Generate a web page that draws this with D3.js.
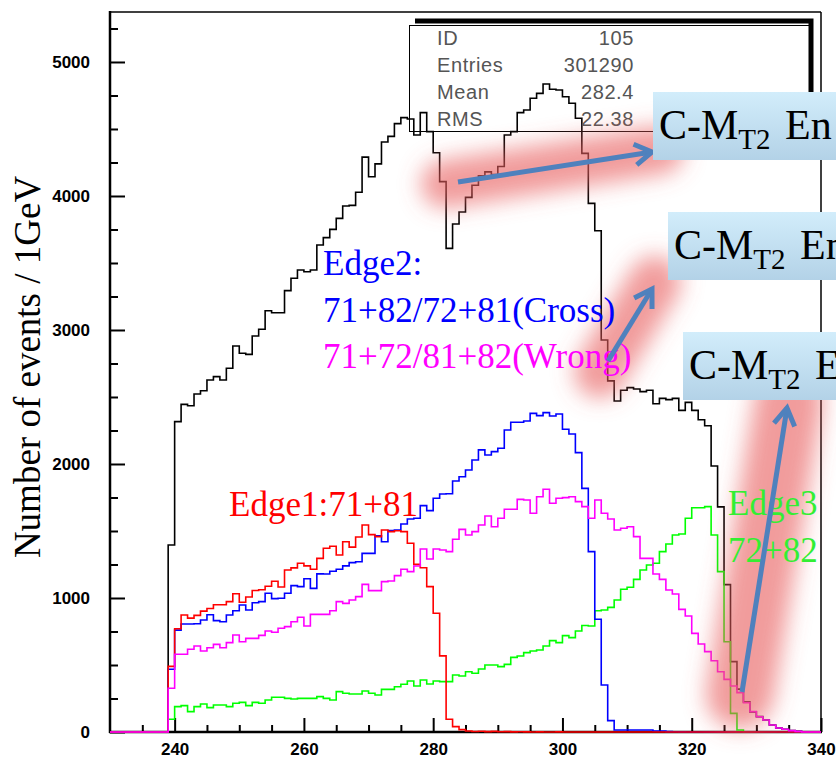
<!DOCTYPE html>
<html>
<head>
<meta charset="utf-8">
<script src="https://d3js.org/d3.v7.min.js"></script>
<style>
body { margin: 0; background: #fff; overflow: hidden; }
svg { display: block; }
.tick text { font-family: "Liberation Sans", Arial, sans-serif; font-weight: bold; font-size: 17px; fill: #000; }
</style>
</head>
<body>
<div id="chart"></div>
<script>
// 1 GeV bins, first bin starts at 230 GeV
var firstBin = 230;

// black: all combinations
var total = [
  0,0,0,0,0,0,0,0,0,1396,
  2316,2445,2435,2522,2547,2627,2652,2627,2714,2881,
  2826,2818,2955,3005,3144,3129,3129,3294,3386,3448,
  3435,3448,3634,3689,3751,3833,3925,3930,4028,4290,
  4144,4240,4403,4445,4540,4585,4575,4455,4622,4480,
  4323,4107,3609,3791,3880,3990,4080,4150,4180,4160,
  4220,4455,4480,4622,4642,4729,4766,4836,4796,4791,
  4741,4692,4580,4318,3945,3741,2925,2620,2470,2550,
  2570,2560,2540,2550,2450,2490,2480,2490,2400,2460,
  2400,2330,2285,1985,1680,1100,525,320,225,150,
  115,90,52,30,20,10,5,0,0,0];
// red: Edge1 71+81
var edge1 = [
  0,0,0,0,0,0,0,0,0,490,
  770,873,850,870,902,922,950,950,973,1032,
  968,1008,1056,1062,1088,1125,1082,1209,1225,1259,
  1240,1214,1296,1371,1386,1321,1420,1380,1455,1545,
  1473,1458,1507,1495,1502,1495,1408,1251,1226,1085,
  886,568,95,40,18,8,4,6,3,5,
  2,3,1,2,1,0,1,0,0,1,
  0,0,0,0,0,0,0,0,0,0,
  0,0,0,0,0,0,0,0,0,0,
  0,0,0,0,0,0,0,0,0,0,
  0,0,0,0,0,0,0,0,0,0];
// blue: Edge2 cross
var cross = [
  0,0,0,0,0,0,0,0,0,468,
  760,806,806,808,836,875,831,823,873,905,
  948,910,965,973,1035,995,998,1035,1092,1085,
  1144,1072,1180,1179,1200,1215,1240,1264,1271,1333,
  1333,1465,1420,1503,1507,1552,1590,1595,1689,1652,
  1744,1776,1778,1873,1905,1955,2030,2105,2067,2092,
  2117,2254,2311,2311,2321,2378,2361,2383,2358,2373,
  2259,2224,2085,1818,1346,841,351,85,15,15,
  15,15,15,15,7,7,3,2,1,0,
  0,0,0,0,0,0,0,0,0,0,
  0,0,0,0,0,0,0,0,0,0];
// magenta: Edge2 wrong
var wrong = [
  0,0,0,0,0,0,0,0,0,326,
  580,580,617,642,605,629,654,629,667,724,
  674,699,699,721,754,744,774,786,823,856,
  791,878,878,878,905,973,960,985,1010,1102,
  1055,1055,1122,1127,1167,1214,1197,1239,1366,1291,
  1366,1358,1346,1438,1512,1470,1495,1545,1612,1532,
  1595,1662,1662,1736,1731,1632,1756,1811,1707,1744,
  1749,1756,1719,1682,1595,1731,1632,1590,1507,1520,
  1532,1458,1296,1296,1179,1139,1060,1030,915,866,
  736,657,600,532,450,393,343,294,219,152,
  114,90,52,30,20,10,5,0,0,0];
// green: Edge3 72+82
var edge3 = [
  0,0,0,0,0,0,0,0,0,95,
  189,197,152,189,209,182,201,201,189,214,
  221,197,221,214,239,259,259,251,246,251,
  251,251,264,251,239,301,289,284,284,306,
  289,276,318,318,338,356,381,343,388,358,
  381,376,376,425,418,450,438,470,500,500,
  488,505,557,567,592,604,612,642,682,667,
  719,704,754,795,791,905,910,930,985,1065,
  1080,1139,1209,1246,1259,1346,1403,1470,1478,1595,
  1674,1674,1682,1470,1197,674,139,15,0,0,
  0,0,0,0,0,0,0,0,0,0];

var statsNames = ["ID", "Entries", "Mean", "RMS"];
var statsValues = ["105", "301290", "282.4", "22.38"];
var boxTails = ["En", "En", "E"];
var xMajor = [240, 260, 280, 300, 320, 340];
var yMajor = [0, 1000, 2000, 3000, 4000, 5000];

var W = 836, H = 759;
var svg = d3.select("#chart").append("svg")
  .attr("width", W).attr("height", H);

var x = d3.scaleLinear().domain([230, 340]).range([110, 821]);
var y = d3.scaleLinear().domain([0, 5373]).range([732, 12]);

// blur for the glow highlights
var defs = svg.append("defs");
defs.append("filter").attr("id", "glow")
  .attr("filterUnits", "userSpaceOnUse")
  .attr("x", 0).attr("y", 0).attr("width", W).attr("height", H)
  .append("feGaussianBlur").attr("stdDeviation", 11);
var grad = defs.append("linearGradient").attr("id", "boxfill")
  .attr("x1", 0).attr("y1", 0).attr("x2", 0).attr("y2", 1);
grad.append("stop").attr("offset", "0%").attr("stop-color", "#d2edfb");
grad.append("stop").attr("offset", "100%").attr("stop-color", "#b3d2e7");

// minor + major ticks
var xMinor = d3.range(235, 340, 5).filter(function(v){ return xMajor.indexOf(v) < 0; });
svg.append("g").attr("transform", "translate(0,732)")
  .call(d3.axisBottom(x).tickValues(xMinor).tickSize(-7).tickFormat(""))
  .call(function(g){ g.select(".domain").remove(); g.selectAll("line").attr("stroke-width", 2); });
svg.append("g").attr("transform", "translate(0,732)")
  .call(d3.axisBottom(x).tickValues(xMajor).tickSize(-14).tickPadding(11).tickFormat(d3.format("d")))
  .call(function(g){ g.select(".domain").remove(); g.selectAll("line").attr("stroke-width", 2); });

var yMinor = d3.range(250, 5373, 250).filter(function(v){ return yMajor.indexOf(v) < 0; });
svg.append("g").attr("transform", "translate(110,0)")
  .call(d3.axisLeft(y).tickValues(yMinor).tickSize(-8).tickFormat(""))
  .call(function(g){ g.select(".domain").remove(); g.selectAll("line").attr("stroke-width", 2); });
svg.append("g").attr("transform", "translate(110,0)")
  .call(d3.axisLeft(y).tickValues(yMajor).tickSize(-15).tickPadding(20).tickFormat(d3.format("d")))
  .call(function(g){ g.select(".domain").remove(); g.selectAll("line").attr("stroke-width", 2); });

// frame
svg.append("line").attr("x1", 110).attr("x2", 821).attr("y1", 12).attr("y2", 12)
  .attr("stroke", "#000").attr("stroke-width", 1.5);
svg.append("line").attr("x1", 821).attr("x2", 821).attr("y1", 12).attr("y2", 732)
  .attr("stroke", "#000").attr("stroke-width", 1.5);
svg.append("line").attr("x1", 110).attr("x2", 110).attr("y1", 11).attr("y2", 733)
  .attr("stroke", "#000").attr("stroke-width", 2.5);
svg.append("line").attr("x1", 109).attr("x2", 822).attr("y1", 732).attr("y2", 732)
  .attr("stroke", "#000").attr("stroke-width", 2.5);

// histograms as steps
var step = d3.line()
  .x(function(d){ return x(d[0]); })
  .y(function(d){ return y(d[1]); })
  .curve(d3.curveStepAfter);
function histo(vals, color) {
  var pts = vals.map(function(v, i){ return [firstBin + i, v]; });
  pts.push([firstBin + vals.length, vals[vals.length - 1]]);
  svg.append("path").datum(pts)
    .attr("d", step)
    .attr("fill", "none")
    .attr("stroke", color)
    .attr("stroke-width", 1.6);
}
histo(total, "#000");
histo(edge3, "#00ff00");
histo(cross, "#0000ff");
histo(edge1, "#ff0000");
histo(wrong, "#ff00ff");

// stats box
svg.append("rect").attr("x", 409.5).attr("y", 25.5).attr("width", 400).attr("height", 106)
  .attr("fill", "none").attr("stroke", "#000").attr("stroke-width", 1);
svg.append("path").attr("d", "M415,21H811V131")
  .attr("fill", "none").attr("stroke", "#000").attr("stroke-width", 5);
statsNames.forEach(function(n, i) {
  svg.append("text").attr("x", 437).attr("y", 45 + i * 27)
    .style("font-family", "'Liberation Sans', Arial, sans-serif").style("font-size", "20px")
    .style("letter-spacing", "0.6px").attr("fill", "#555").text(n);
  svg.append("text").attr("x", 634).attr("y", 45 + i * 27).attr("text-anchor", "end")
    .style("font-family", "'Liberation Sans', Arial, sans-serif").style("font-size", "20px")
    .style("letter-spacing", "0.6px").attr("fill", "#555").text(statsValues[i]);
});

// y title
var serif = "'Liberation Serif', 'DejaVu Serif', 'Times New Roman', serif";
svg.append("text")
  .attr("transform", "translate(40,367) rotate(-90)")
  .attr("text-anchor", "middle")
  .style("font-family", serif)
  .style("font-size", "37px")
  .text("Number of events / 1GeV");

// red glow highlights
var arrows = [
  {x1: 458, y1: 182, x2: 652, y2: 152, gx1: 445, gy1: 184, gx2: 660, gy2: 150, gw: 48},
  {x1: 608, y1: 361, x2: 652, y2: 289, gx1: 600, gy1: 372, gx2: 655, gy2: 282, gw: 52},
  {x1: 742, y1: 692, x2: 787, y2: 408, gx1: 740, gy1: 695, gx2: 789, gy2: 400, gw: 68}
];
arrows.forEach(function(a) {
  svg.append("line").attr("x1", a.gx1).attr("y1", a.gy1).attr("x2", a.gx2).attr("y2", a.gy2)
    .attr("stroke", "#e8605f").attr("stroke-opacity", 0.62)
    .attr("stroke-width", a.gw).attr("stroke-linecap", "round")
    .attr("filter", "url(#glow)");
});

// curve labels
var labels = [
  {t: "Edge2:", x: 323, y: 275, c: "#0000ff"},
  {t: "71+82/72+81(Cross)", x: 323, y: 322, c: "#0000ff"},
  {t: "71+72/81+82(Wrong)", x: 323, y: 368, c: "#ff00ff"},
  {t: "Edge1:71+81", x: 229, y: 516, c: "#ff0000"},
  {t: "Edge3", x: 728, y: 515, c: "#33ee33"},
  {t: "72+82", x: 728, y: 562, c: "#33ee33"}
];
labels.forEach(function(l) {
  svg.append("text").attr("x", l.x).attr("y", l.y).attr("fill", l.c)
    .style("font-family", serif).style("font-size", "35px").text(l.t);
});

// arrows
arrows.forEach(function(a) {
  var ang = Math.atan2(a.y2 - a.y1, a.x2 - a.x1), L = 20, w = 0.55;
  svg.append("line").attr("x1", a.x1).attr("y1", a.y1).attr("x2", a.x2).attr("y2", a.y2)
    .attr("stroke", "#4f81bd").attr("stroke-width", 5);
  svg.append("path")
    .attr("d", "M" + (a.x2 - L * Math.cos(ang - w)) + "," + (a.y2 - L * Math.sin(ang - w)) +
      "L" + a.x2 + "," + a.y2 +
      "L" + (a.x2 - L * Math.cos(ang + w)) + "," + (a.y2 - L * Math.sin(ang + w)))
    .attr("fill", "none").attr("stroke", "#4f81bd").attr("stroke-width", 5)
    .attr("stroke-linejoin", "miter");
});

// callout boxes (cut by the slide edge)
var boxes = [{x: 653, y: 92}, {x: 668, y: 212}, {x: 683, y: 332}];
boxes.forEach(function(b, i) {
  svg.append("rect").attr("x", b.x).attr("y", b.y).attr("width", W - b.x).attr("height", 68)
    .attr("fill", "url(#boxfill)");
  var t = svg.append("text").attr("x", b.x + 6).attr("y", b.y + 47)
    .style("font-family", serif).style("font-size", "42px").attr("fill", "#000");
  t.append("tspan").text("C-M");
  t.append("tspan").attr("dy", 10).style("font-size", "29px").text("T2");
  t.append("tspan").attr("dy", -10).attr("dx", 4).text("\u00a0" + boxTails[i]);
});
</script>
</body>
</html>
